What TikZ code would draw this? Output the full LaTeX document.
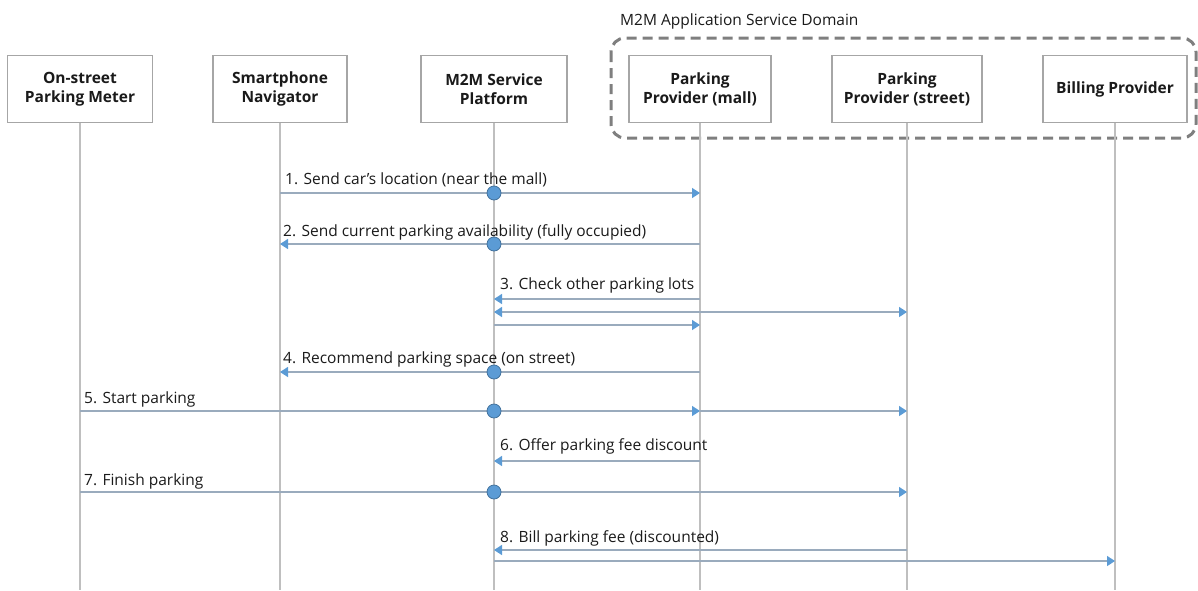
\documentclass[tikz,border=0pt]{standalone}
\usepackage{fontspec}
\setmainfont{Open Sans}
\usetikzlibrary{arrows.meta}
\definecolor{boxgray}{HTML}{A6A6A6}
\definecolor{lifegray}{HTML}{BFBFBF}
\definecolor{msggray}{HTML}{9AABBD}
\definecolor{tipblue}{HTML}{5B9BD5}
\definecolor{circborder}{HTML}{41719C}
\definecolor{domgray}{HTML}{7F7F7F}
\definecolor{txt}{HTML}{1A1A1A}
\tikzset{
  actor/.style={draw=boxgray, line width=1.2pt, fill=white, minimum height=67pt,
    align=center, font=\fontsize{15.5}{19}\selectfont\bfseries, text=txt, inner sep=2pt},
  lifeline/.style={draw=lifegray, line width=1.5pt},
  msgarrow/.style={draw=msggray, line width=1.5pt,
    -{Triangle[length=8pt,width=10pt,color=tipblue]}},
  dmsgarrow/.style={draw=msggray, line width=1.5pt,
    {Triangle[length=8pt,width=10pt,color=tipblue]}-{Triangle[length=8pt,width=10pt,color=tipblue]}},
  seqdot/.style={circle, fill=tipblue, draw=circborder, line width=0.8pt, minimum size=14pt, inner sep=0pt},
  msglbl/.style={anchor=base west, font=\fontsize{15.5}{18}\selectfont, text=txt, inner sep=0pt},
  domainbox/.style={draw=domgray, line width=3pt, dash pattern=on 10pt off 6pt, rounded corners=14pt}
}
\begin{document}
\begin{tikzpicture}[x=1pt,y=-1pt]
\useasboundingbox (0,0) rectangle (1198,590);
% domain
\draw[domainbox] (611,38) rectangle (1196,138);
\node[msglbl] (domlbl) at (620,25) {M2M Application Service Domain};
% actors
\node[actor, minimum width=145pt] (meter) at (80,89) {On-street\\Parking Meter};
\node[actor, minimum width=134pt] (nav) at (280,89) {Smartphone\\Navigator};
\node[actor, minimum width=146pt] (plat) at (494,89) {M2M Service\\Platform};
\node[actor, minimum width=142pt] (mall) at (700,89) {Parking\\Provider (mall)};
\node[actor, minimum width=150pt] (street) at (907,89) {Parking\\Provider (street)};
\node[actor, minimum width=144pt] (bill) at (1115,89) {Billing Provider};
% lifeline ends
\foreach \n in {meter,nav,plat,mall,street,bill}{
  \coordinate (\n-end) at (\n.south |- 0,590);
  \draw[lifeline] (\n.south) -- (\n-end);
}
% 1
\draw[msgarrow] (nav |- 0,193) -- (mall |- 0,193);
\node[msglbl] (l1) at (285,184) {1. Send car’s location (near the mall)};
% 2
\draw[msgarrow] (mall |- 0,244) -- (nav |- 0,244);
\node[msglbl] (l2) at (283,236) {2. Send current parking availability (fully occupied)};
% 3
\node[msglbl] (l3) at (500,289) {3. Check other parking lots};
\draw[msgarrow] (mall |- 0,299) -- (plat |- 0,299);
\draw[dmsgarrow] (plat |- 0,312) -- (street |- 0,312);
\draw[msgarrow] (plat |- 0,325) -- (mall |- 0,325);
% 4
\draw[msgarrow] (mall |- 0,372) -- (nav |- 0,372);
\node[msglbl] (l4) at (283,363) {4. Recommend parking space (on street)};
% 5
\draw[msgarrow] (meter |- 0,411) -- (mall |- 0,411);
\draw[msgarrow] (mall |- 0,411) -- (street |- 0,411);
\node[msglbl] (l5) at (84,403) {5. Start parking};
% 6
\draw[msgarrow] (mall |- 0,461) -- (plat |- 0,461);
\node[msglbl] (l6) at (500,450) {6. Offer parking fee discount};
% 7
\draw[msgarrow] (meter |- 0,492) -- (street |- 0,492);
\node[msglbl] (l7) at (84,485) {7. Finish parking};
% 8
\draw[msgarrow] (street |- 0,550) -- (plat |- 0,550);
\node[msglbl] (l8) at (500,542) {8. Bill parking fee (discounted)};
\draw[msgarrow] (plat |- 0,561) -- (bill |- 0,561);
% dots
\foreach \y/\k in {193/a,244/b,372/c,411/d,492/e}{
  \node[seqdot] (dot\k) at (plat |- 0,\y) {};
}
\end{tikzpicture}
\end{document}
